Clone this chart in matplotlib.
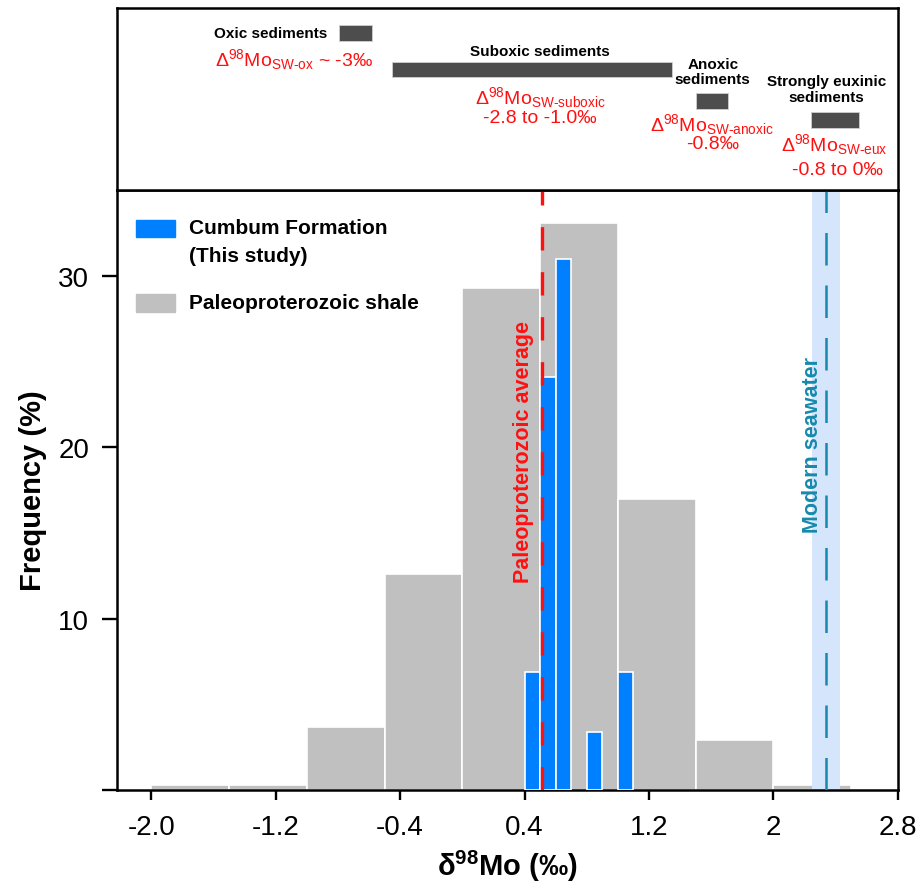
import matplotlib
matplotlib.use('Agg')
import matplotlib.pyplot as plt
from matplotlib.patches import Rectangle

plt.rcParams['font.family'] = ['Liberation Sans', 'DejaVu Sans']
plt.rcParams['mathtext.default'] = 'regular'

# Paleoproterozoic shale histogram (0.5 permil bins)
shale_edges = [-2.0, -1.5, -1.0, -0.5, 0.0, 0.5, 1.0, 1.5, 2.0]
shale_pct = [0.3, 0.3, 3.7, 12.6, 29.3, 33.1, 17.0, 2.9, 0.3]

# Cumbum Formation histogram (0.1 permil bins)
cumbum_edges = [0.4, 0.5, 0.6, 0.8, 1.0]
cumbum_pct = [6.9, 24.1, 31.0, 3.4, 6.9]

paleo_avg = 0.51
seawater = 2.34
seawater_err = 0.09

xticks = [-2.0, -1.2, -0.4, 0.4, 1.2, 2.0, 2.8]
xtick_labels = ['-2.0', '-1.2', '-0.4', '0.4', '1.2', '2', '2.8']
yticks = [0, 10, 20, 30]
ytick_labels = ['', '10', '20', '30']

# sediment zones shown in the header panel (delta98Mo ranges)
zone_names = ['Oxic sediments', 'Suboxic sediments', 'Anoxic\nsediments',
              'Strongly euxinic\nsediments']
zone_lo = [-0.79, -0.45, 1.50, 2.24]
zone_hi = [-0.58, 1.35, 1.71, 2.55]
zone_fract = ['Δ$^{98}$Mo$_{SW‐ox}$ ~ -3‰',
              'Δ$^{98}$Mo$_{SW‐suboxic}$',
              'Δ$^{98}$Mo$_{SW‐anoxic}$',
              'Δ$^{98}$Mo$_{SW‐eux}$']
zone_range = ['', '-2.8 to -1.0‰', '-0.8‰', '-0.8 to 0‰']

RED = '#ff1010'
TEAL = '#1589ad'
BLUE = '#0080ff'
GRAY = '#c0c0c0'

fig = plt.figure(figsize=(9.2, 8.95), dpi=100)
ax = fig.add_axes([0.1272, 0.1162, 0.8488, 0.6704])
ax_top = fig.add_axes([0.1272, 0.7866, 0.8488, 0.2034])

xlim = (-2.22, 2.8)

# --- main histogram ---
ax.bar(shale_edges, shale_pct, width=0.5, align='edge', color=GRAY,
       edgecolor='white', linewidth=1.2, zorder=1)
ax.axvspan(seawater - seawater_err, seawater + seawater_err,
           color='#d5e5fb', lw=0, zorder=2)
ax.bar(cumbum_edges, cumbum_pct, width=0.1, align='edge', color=BLUE,
       edgecolor='white', linewidth=1.2, zorder=3)
ax.axvline(paleo_avg, color=RED, lw=2.4, ls=(0, (7, 6.5)), zorder=4)
ax.axvline(seawater, color=TEAL, lw=1.8, ls=(0, (13, 8)), zorder=4)

ax.text(0.39, 19.8, 'Paleoproterozoic average', rotation=90, color=RED,
        fontsize=15.5, fontweight='bold', ha='center', va='center')
ax.text(2.25, 20.2, 'Modern seawater', rotation=90, color=TEAL,
        fontsize=15.5, fontweight='bold', ha='center', va='center')

# hand-made legend
ax.add_patch(Rectangle((0.024, 0.921), 0.05, 0.029, transform=ax.transAxes,
                       color=BLUE, clip_on=False))
ax.add_patch(Rectangle((0.024, 0.797), 0.05, 0.029, transform=ax.transAxes,
                       color=GRAY, clip_on=False))
ax.text(0.092, 0.937, 'Cumbum Formation', transform=ax.transAxes,
        fontsize=15, fontweight='bold', va='center')
ax.text(0.092, 0.890, '(This study)', transform=ax.transAxes,
        fontsize=15, fontweight='bold', va='center')
ax.text(0.092, 0.813, 'Paleoproterozoic shale', transform=ax.transAxes,
        fontsize=15, fontweight='bold', va='center')

ax.set_xlim(*xlim)
ax.set_ylim(0, 35)
ax.set_xticks(xticks)
ax.set_xticklabels(xtick_labels)
ax.set_yticks(yticks)
ax.set_yticklabels(ytick_labels)
ax.tick_params(direction='out', width=1.7, labelsize=20)
ax.tick_params(axis='x', length=7, pad=10)
ax.tick_params(axis='y', length=11, pad=9)
for s in ax.spines.values():
    s.set_linewidth(1.8)
ax.set_xlabel(r'δ$^{98}$Mo (‰)', fontsize=21, fontweight='bold', labelpad=6)
ax.set_ylabel('Frequency (%)', fontsize=21, fontweight='bold', labelpad=8)

# --- header panel with sediment zones ---
ax_top.set_xlim(*xlim)
ax_top.set_ylim(0, 1)
ax_top.set_xticks([])
ax_top.set_yticks([])
for s in ax_top.spines.values():
    s.set_linewidth(1.8)

bar_y = [0.861, 0.661, 0.489, 0.385]
bar_h = 0.086
for lo, hi, y in zip(zone_lo, zone_hi, bar_y):
    ax_top.add_patch(Rectangle((lo, y - bar_h / 2), hi - lo, bar_h,
                               facecolor='#4d4d4d', edgecolor='#d0d0d0',
                               lw=0.6))

name_xy = [(-1.23, 0.863), (0.50, 0.765), (1.61, 0.651), (2.34, 0.555)]
fract_xy = [(-1.08, 0.72), (0.50, 0.516), (1.605, 0.363), (2.39, 0.253)]
range_xy = [(0, 0), (0.50, 0.40), (1.61, 0.253), (2.41, 0.115)]

for name, (x, y) in zip(zone_names, name_xy):
    ax_top.text(x, y, name, fontsize=11, fontweight='bold', ha='center',
                va='center', linespacing=1.15)
for lab, (x, y) in zip(zone_fract, fract_xy):
    ax_top.text(x, y, lab, fontsize=14, color=RED, ha='center', va='center')
for lab, (x, y) in zip(zone_range, range_xy):
    if lab:
        ax_top.text(x, y, lab, fontsize=14, color=RED, ha='center',
                    va='center')

fig.savefig('out.png', dpi=100)
